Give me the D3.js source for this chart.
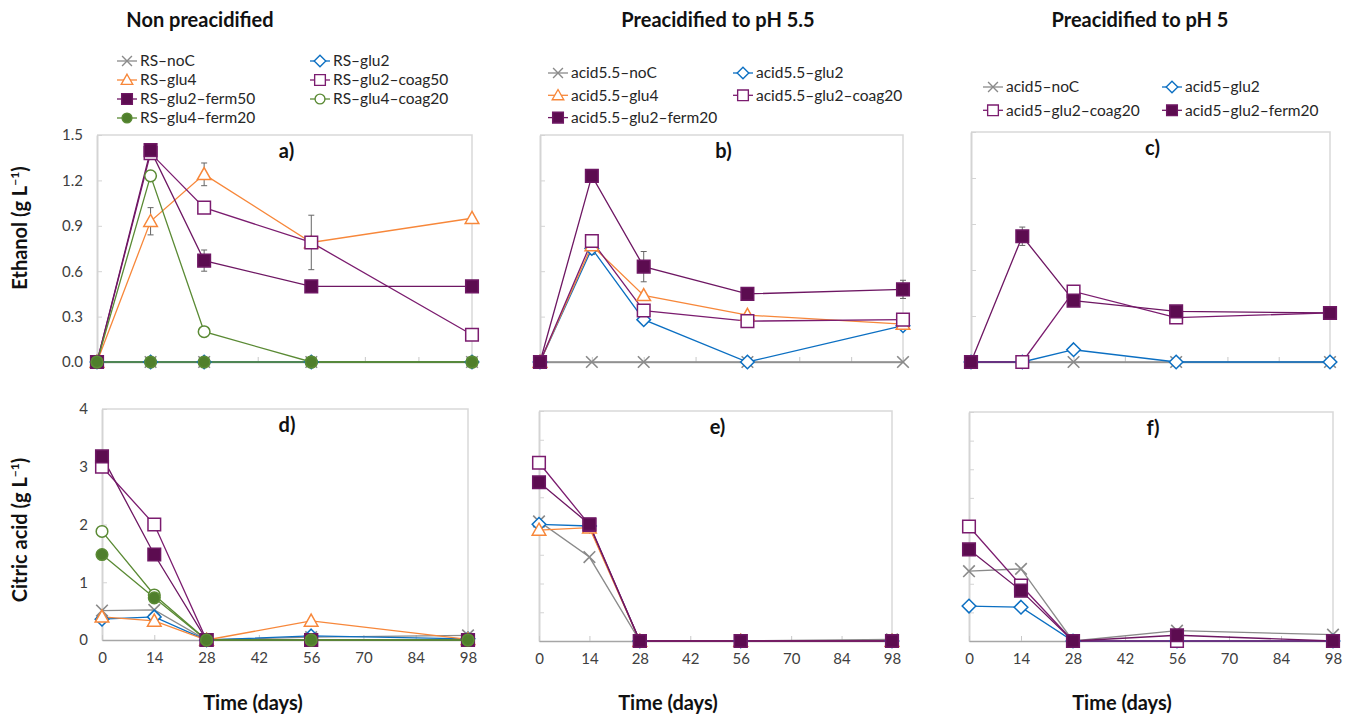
<!DOCTYPE html>
<meta charset="utf-8">
<style>
body { margin: 0; background: #fff; font-family: Lato, 'Open Sans', sans-serif; }
.axis text { font-family: Lato, 'Open Sans', sans-serif; font-size: 15px; fill: #404040; }
.title { font-weight: bold; font-size: 20px; fill: #111; }
.leg { font-size: 15.5px; fill: #262626; }
</style>
<svg width="1352" height="716"></svg>
<script src="https://d3js.org/d3.v7.min.js"></script>
<script>

var days = [0, 14, 28, 56, 98];
var dayTicks = [0, 14, 28, 42, 56, 70, 84, 98];
var ethanolTicks = [0, 0.3, 0.6, 0.9, 1.2, 1.5];
var citricTicks = [0, 1, 2, 3, 4];
var citricMinorTicks = [0, 0.5, 1, 1.5, 2, 2.5, 3, 3.5, 4];

// ethanol, non preacidified
var ethanolRS = [
  {key: 'noC',    name: 'RS–noC',         v: [0, 0, 0, 0, 0]},
  {key: 'glu2',   name: 'RS–glu2',        v: [0, 0, 0, 0, 0]},
  {key: 'glu4',   name: 'RS–glu4',        v: [0, 0.93, 1.24, 0.79, 0.95], e: [0, 0.09, 0.075, 0, 0]},
  {key: 'coag',   name: 'RS–glu2–coag50', v: [0, 1.38, 1.02, 0.79, 0.18], e: [0, 0, 0, 0.18, 0]},
  {key: 'ferm',   name: 'RS–glu2–ferm50', v: [0, 1.40, 0.67, 0.50, 0.50], e: [0, 0, 0.07, 0, 0]},
  {key: 'gcoag',  name: 'RS–glu4–coag20', v: [0, 1.23, 0.20, 0, 0]},
  {key: 'gferm',  name: 'RS–glu4–ferm20', v: [0, 0, 0, 0, 0]}
];
// ethanol, pH 5.5
var ethanol55 = [
  {key: 'noC',  name: 'acid5.5–noC',          v: [0, 0, 0, 0, 0]},
  {key: 'glu2', name: 'acid5.5–glu2',         v: [0, 0.75, 0.28, 0, 0.24], e: [0, 0.04, 0, 0, 0]},
  {key: 'glu4', name: 'acid5.5–glu4',         v: [0, 0.77, 0.44, 0.31, 0.25]},
  {key: 'coag', name: 'acid5.5–glu2–coag20',  v: [0, 0.80, 0.34, 0.27, 0.28], e: [0, 0, 0, 0, 0.03]},
  {key: 'ferm', name: 'acid5.5–glu2–ferm20',  v: [0, 1.23, 0.63, 0.45, 0.48], e: [0, 0, 0.10, 0, 0.06]}
];
// ethanol, pH 5
var ethanol5 = [
  {key: 'noC',  name: 'acid5–noC',         v: [0, 0, 0, 0, 0]},
  {key: 'glu2', name: 'acid5–glu2',        v: [0, 0, 0.08, 0, 0]},
  {key: 'coag', name: 'acid5–glu2–coag20', v: [0, 0, 0.46, 0.29, 0.32]},
  {key: 'ferm', name: 'acid5–glu2–ferm20', v: [0, 0.82, 0.40, 0.33, 0.32], e: [0, 0.06, 0, 0, 0]}
];
// citric acid
var citricRS = [
  {key: 'noC',   v: [0.51, 0.52, 0, 0.05, 0.08]},
  {key: 'glu2',  v: [0.36, 0.40, 0, 0.07, 0.02]},
  {key: 'glu4',  v: [0.40, 0.33, 0, 0.33, 0.01]},
  {key: 'coag',  v: [3.00, 2.00, 0, 0, 0]},
  {key: 'ferm',  v: [3.18, 1.48, 0, 0, 0]},
  {key: 'gcoag', v: [1.88, 0.78, 0, 0, 0]},
  {key: 'gferm', v: [1.48, 0.73, 0, 0, 0]}
];
var citric55 = [
  {key: 'noC',  v: [2.08, 1.46, 0, 0, 0.03]},
  {key: 'glu2', v: [2.03, 2.00, 0, 0, 0]},
  {key: 'glu4', v: [1.93, 1.97, 0, 0, 0]},
  {key: 'coag', v: [3.10, 2.02, 0, 0, 0]},
  {key: 'ferm', v: [2.76, 2.03, 0, 0, 0]}
];
var citric5 = [
  {key: 'noC',  v: [1.22, 1.26, 0, 0.18, 0.11]},
  {key: 'glu2', v: [0.61, 0.59, 0, 0, 0]},
  {key: 'coag', v: [2.00, 0.97, 0, 0, 0]},
  {key: 'ferm', v: [1.60, 0.88, 0, 0.10, 0]}
];

var styles = {
  noC:   {c: '#8a8a8a', m: 'x',        fill: 'none'},
  glu2:  {c: '#0b6fc2', m: 'diamond',  fill: '#fff'},
  glu4:  {c: '#f7873a', m: 'triangle', fill: '#fff'},
  coag:  {c: '#7b1c6f', m: 'square',   fill: '#fff'},
  ferm:  {c: '#6e1763', m: 'square',   fill: '#5c0c50'},
  gcoag: {c: '#5a8a34', m: 'circle',   fill: '#fff'},
  gferm: {c: '#5a8a34', m: 'circle',   fill: '#4f7f2c'}
};

function markerPath(m) {
  if (m == 'square') return 'M-6.3,-6.3H6.3V6.3H-6.3Z';
  if (m == 'diamond') return 'M0,-6.8L6.8,0L0,6.8L-6.8,0Z';
  if (m == 'triangle') return 'M0,-6.8L6.8,5.2L-6.8,5.2Z';
  if (m == 'circle') return 'M5.8,0A5.8,5.8 0 1,1 -5.8,0A5.8,5.8 0 1,1 5.8,0Z';
  return 'M-5.8,-5.8L5.8,5.8M5.8,-5.8L-5.8,5.8';
}

var svg = d3.select('svg');

var panels = [
  {id: 'a)', data: ethanolRS, x0: 97,  x1: 472,  y0: 135, y1: 362, dom: [0, 1.5], ticks: ethanolTicks, fmt: d3.format('.1f'), xl: false},
  {id: 'b)', data: ethanol55, x0: 540, x1: 903,  y0: 135, y1: 362, dom: [0, 1.5], ticks: ethanolTicks, fmt: null, xl: false},
  {id: 'c)', data: ethanol5,  x0: 971, x1: 1330, y0: 132, y1: 362, dom: [0, 1.5], ticks: ethanolTicks, fmt: null, xl: false},
  {id: 'd)', data: citricRS,  x0: 102, x1: 468,  y0: 409, y1: 640, dom: [0, 4], ticks: citricTicks, fmt: d3.format('d'), xl: true},
  {id: 'e)', data: citric55,  x0: 539, x1: 892,  y0: 411, y1: 641, dom: [0, 4], ticks: citricMinorTicks, fmt: null, xl: true},
  {id: 'f)', data: citric5,   x0: 969, x1: 1333, y0: 412, y1: 641, dom: [0, 4], ticks: citricMinorTicks, fmt: null, xl: true}
];

panels.forEach(function(p) {
  var x = d3.scaleLinear().domain([0, 98]).range([p.x0, p.x1]);
  var y = d3.scaleLinear().domain(p.dom).range([p.y1, p.y0]);
  var g = svg.append('g');

  g.append('path')
    .attr('d', 'M' + p.x0 + ',' + p.y0 + 'H' + p.x1 + 'V' + p.y1)
    .attr('fill', 'none').attr('stroke', '#d9d9d9').attr('stroke-width', 1.5);

  var ya = g.append('g').attr('class', 'axis')
    .attr('transform', 'translate(' + p.x0 + ',0)')
    .call(d3.axisLeft(y).tickValues(p.ticks).tickSizeInner(-5).tickSizeOuter(0)
      .tickPadding(14).tickFormat(p.fmt ? p.fmt : function() { return ''; }));
  ya.select('.domain').attr('stroke', '#d4d4d4').attr('stroke-width', 2);
  ya.selectAll('.tick line').attr('stroke', '#d4d4d4');

  var xa = g.append('g').attr('class', 'axis')
    .attr('transform', 'translate(0,' + p.y1 + ')')
    .call(d3.axisBottom(x).tickValues(dayTicks).tickSizeInner(-5).tickSizeOuter(0)
      .tickPadding(12).tickFormat(p.xl ? d3.format('d') : function() { return ''; }));
  xa.select('.domain').attr('stroke', '#a6a6a6').attr('stroke-width', 1.5);
  xa.selectAll('.tick line').attr('stroke', '#c8c8c8');

  g.append('text').attr('class', 'title')
    .attr('x', (p.x0 + p.x1) / 2 + 2).attr('y', p.y0 + 23)
    .attr('text-anchor', 'middle').text(p.id);

  var line = d3.line().x(function(d, i) { return x(days[i]); }).y(function(d) { return y(d); });

  p.data.forEach(function(s) {
    var st = styles[s.key];
    g.append('path').attr('d', line(s.v))
      .attr('fill', 'none').attr('stroke', st.c).attr('stroke-width', 1.3);
  });

  p.data.forEach(function(s) {
    var st = styles[s.key];
    if (s.e) {
      s.v.forEach(function(v, i) {
        if (!s.e[i]) return;
        var cx = x(days[i]), ya1 = y(v + s.e[i]), ya2 = y(v - s.e[i]);
        g.append('path')
          .attr('d', 'M' + cx + ',' + ya1 + 'V' + ya2 + 'M' + (cx - 3) + ',' + ya1 + 'H' + (cx + 3) + 'M' + (cx - 3) + ',' + ya2 + 'H' + (cx + 3))
          .attr('stroke', '#666').attr('stroke-width', 1).attr('fill', 'none');
      });
    }
    g.selectAll(null).data(s.v).enter().append('path')
      .attr('transform', function(d, i) { return 'translate(' + x(days[i]) + ',' + y(d) + ')'; })
      .attr('d', markerPath(st.m))
      .attr('fill', st.fill)
      .attr('stroke', st.c)
      .attr('stroke-width', st.m == 'x' ? 1.6 : 1.5);
  });
});

// column headings
[['Non preacidified', 200], ['Preacidified to pH 5.5', 718], ['Preacidified to pH 5', 1140]].forEach(function(t) {
  svg.append('text').attr('class', 'title').attr('x', t[1]).attr('y', 27)
    .attr('text-anchor', 'middle').text(t[0]);
});

// x titles
[253, 668, 1122].forEach(function(cx) {
  svg.append('text').attr('class', 'title').attr('x', cx).attr('y', 710)
    .attr('text-anchor', 'middle').text('Time (days)');
});

// y titles
[['Ethanol (g L', 228], ['Citric acid (g L', 530]].forEach(function(t) {
  var tx = svg.append('text').attr('class', 'title')
    .attr('transform', 'translate(27,' + t[1] + ') rotate(-90)')
    .attr('text-anchor', 'middle');
  tx.append('tspan').text(t[0]);
  tx.append('tspan').attr('dy', -8).attr('font-size', 12).text('−1');
  tx.append('tspan').attr('dy', 8).text(')');
});

// legends
var legends = [
  {data: ethanolRS, cols: [127, 320], y0: 61, dy: 19},
  {data: ethanol55, cols: [558, 743], y0: 73, dy: 22.3},
  {data: ethanol5,  cols: [993, 1172], y0: 87, dy: 23.3}
];
legends.forEach(function(L) {
  L.data.forEach(function(s, i) {
    var st = styles[s.key];
    var cx = L.cols[i % 2], cy = L.y0 + Math.floor(i / 2) * L.dy;
    var g = svg.append('g').attr('transform', 'translate(' + cx + ',' + cy + ')');
    g.append('line').attr('x1', -10).attr('x2', 10).attr('stroke', st.c).attr('stroke-width', 1.3);
    g.append('path').attr('d', markerPath(st.m)).attr('transform', 'scale(0.85)')
      .attr('fill', st.fill).attr('stroke', st.c).attr('stroke-width', 1.6);
    g.append('text').attr('class', 'leg').attr('x', 13).attr('dy', '0.35em').text(s.name);
  });
});

</script>
